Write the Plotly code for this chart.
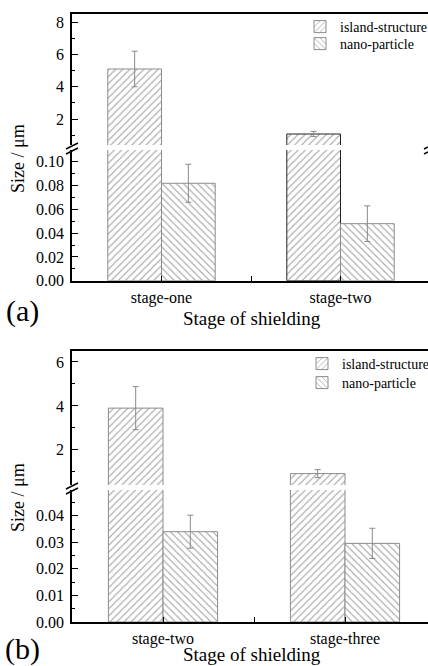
import plotly.graph_objects as go

# ---- data -------------------------------------------------------------
stages_a = ["stage-one", "stage-two"]
island_a = [5.1, 1.08]
island_a_err = [1.1, 0.16]
nano_a = [0.082, 0.048]
nano_a_err = [0.016, 0.015]

stages_b = ["stage-two", "stage-three"]
island_b = [3.9, 0.92]
island_b_err = [0.98, 0.18]
nano_b = [0.034, 0.0296]
nano_b_err = [0.0062, 0.0057]

series_names = ["island-structure", "nano-particle"]

# ---- page geometry (pixels) ------------------------------------------
W, H = 428, 666
FONT = "Liberation Serif"


def fx(px):
    return px / W


def fy(px):
    return 1 - px / H


panels = [
    dict(stages=stages_a, island=island_a, island_err=island_a_err,
         nano=nano_a, nano_err=nano_a_err,
         upper_px=(14, 145), lower_px=(150, 280.7),
         upper_range=[0.4, 8.5], lower_range=[0, 0.11],
         lower_dtick=0.02, lower_minor=0.01,
         px_per_cat=179, legends=("legend", "legend2"),
         island_line=["#8c8c8c", "#222222"],
         tag="(a)", tag_y=311, xtitle_y=318, ytitle_y=159,
         legend_rows=(27, 44), legend_x=300),
    dict(stages=stages_b, island=island_b, island_err=island_b_err,
         nano=nano_b, nano_err=nano_b_err,
         upper_px=(351, 485), lower_px=(490, 622),
         upper_range=[0.4, 6.5], lower_range=[0, 0.0497],
         lower_dtick=0.01, lower_minor=0.005,
         px_per_cat=182, legends=("legend3", "legend4"),
         island_line=["#8c8c8c", "#8c8c8c"],
         tag="(b)", tag_y=649, xtitle_y=654, ytitle_y=498,
         legend_rows=(364, 383), legend_x=302),
]

X0_PX = 72
fig = go.Figure()
layout = dict(
    width=W, height=H,
    margin=dict(l=0, r=0, t=0, b=0, autoexpand=False),
    paper_bgcolor="white", plot_bgcolor="rgba(0,0,0,0)",
    barmode="group", bargap=0.4, bargroupgap=0,
    font=dict(family=FONT, size=16, color="black"),
    showlegend=True,
)
shapes = []
annotations = []

axis_common = dict(showgrid=False, zeroline=False, linecolor="black",
                   automargin=False)
tick_font = dict(family=FONT, size=16, color="black")

for p_i, p in enumerate(panels):
    n = len(p["stages"])
    xs = list(range(n))
    xmax = -0.5 + (W - X0_PX) / p["px_per_cat"]
    up_idx, lo_idx = 2 * p_i + 1, 2 * p_i + 2

    for sec_idx, is_upper in ((up_idx, True), (lo_idx, False)):
        xa = "x" if sec_idx == 1 else f"x{sec_idx}"
        ya = "y" if sec_idx == 1 else f"y{sec_idx}"
        fig.add_trace(go.Bar(
            x=xs, y=p["island"], name=series_names[0],
            xaxis=xa, yaxis=ya, legend=p["legends"][0],
            showlegend=is_upper, offsetgroup="island",
            marker=dict(color="white",
                        line=dict(color=p["island_line"], width=1),
                        pattern=dict(shape="/", fgcolor="#555555",
                                     bgcolor="white", size=5, solidity=0.22)),
            error_y=dict(type="data", array=p["island_err"],
                         color="#8a8a8a", thickness=1, width=3),
        ))
        fig.add_trace(go.Bar(
            x=xs, y=p["nano"], name=series_names[1],
            xaxis=xa, yaxis=ya, legend=p["legends"][1],
            showlegend=is_upper, offsetgroup="nano",
            marker=dict(color="white",
                        line=dict(color="#8c8c8c", width=1),
                        pattern=dict(shape="\\", fgcolor="#555555",
                                     bgcolor="white", size=5, solidity=0.22)),
            error_y=dict(type="data", array=p["nano_err"],
                         color="#8a8a8a", thickness=1, width=3),
        ))

    # x axes: top frame line on the upper part, category axis below
    up_top, up_bot = p["upper_px"]
    lo_top, lo_bot = p["lower_px"]
    tickvals, ticktext = [], []
    for i, s in enumerate(p["stages"]):
        tickvals.append(i)
        ticktext.append(s)
        if i < n - 1:
            tickvals.append(i + 0.5)
            ticktext.append("")
    layout["xaxis" if up_idx == 1 else f"xaxis{up_idx}"] = dict(
        axis_common, domain=[fx(X0_PX), 1], range=[-0.5, xmax],
        anchor="y" if up_idx == 1 else f"y{up_idx}", side="top",
        showline=True, linewidth=2, ticks="", showticklabels=False,
    )
    layout[f"xaxis{lo_idx}"] = dict(
        axis_common, domain=[fx(X0_PX), 1], range=[-0.5, xmax],
        anchor=f"y{lo_idx}", showline=True, linewidth=1.5,
        ticks="inside", ticklen=5, tickcolor="black",
        tickvals=tickvals, ticktext=ticktext, ticklabelstandoff=1,
        tickfont=tick_font,
    )
    # y axes: broken scale, micrometres above, sub-0.1 values below
    layout["yaxis" if up_idx == 1 else f"yaxis{up_idx}"] = dict(
        axis_common, domain=[fy(up_bot), fy(up_top)], range=p["upper_range"],
        anchor="x" if up_idx == 1 else f"x{up_idx}",
        showline=True, linewidth=1.5, ticks="inside", ticklen=6,
        tickcolor="black", tick0=0, dtick=2, ticklabelstandoff=3,
        tickfont=tick_font,
        minor=dict(dtick=1, tick0=0, ticks="inside", ticklen=3,
                   tickcolor="black"),
    )
    layout[f"yaxis{lo_idx}"] = dict(
        axis_common, domain=[fy(lo_bot), fy(lo_top)], range=p["lower_range"],
        anchor=f"x{lo_idx}", showline=True, linewidth=1.5,
        ticks="inside", ticklen=6, tickcolor="black",
        tick0=0, dtick=p["lower_dtick"], tickformat=".2f",
        ticklabelstandoff=3, tickfont=tick_font,
        minor=dict(dtick=p["lower_minor"], tick0=0, ticks="inside",
                   ticklen=3, tickcolor="black"),
    )

    # axis-break marks on the left and right spines (only where on the page)
    right_px = X0_PX + n * p["px_per_cat"]
    for axis_px in (X0_PX, right_px):
        if axis_px - 6 >= W:
            continue
        for off in (0, 5):
            x_end = min(axis_px + 6, W)
            shapes.append(dict(
                type="line", xref="paper", yref="paper",
                x0=fx(axis_px - 6), y0=fy(up_bot + 4 + off),
                x1=fx(x_end),
                y1=fy(up_bot + 4 + off - 6 * (x_end - axis_px + 6) / 12),
                line=dict(color="black", width=1.5),
            ))

    # one legend box per series, stacked
    for lg, row_y in zip(p["legends"], p["legend_rows"]):
        layout[lg] = dict(
            x=fx(p["legend_x"]), y=fy(row_y), xanchor="left", yanchor="middle",
            bgcolor="rgba(0,0,0,0)", borderwidth=0,
            font=dict(family=FONT, size=14, color="black"),
            itemclick=False,
        )

    # titles and panel tag
    annotations.append(dict(
        text="Size / μm", xref="paper", yref="paper",
        x=fx(18), y=fy(p["ytitle_y"]), textangle=-90, showarrow=False,
        xanchor="center", yanchor="middle",
        font=dict(family=FONT, size=18, color="black"),
    ))
    annotations.append(dict(
        text="Stage of shielding", xref="paper", yref="paper",
        x=fx(252), y=fy(p["xtitle_y"]), showarrow=False,
        xanchor="center", yanchor="middle",
        font=dict(family=FONT, size=19, color="black"),
    ))
    annotations.append(dict(
        text=p["tag"], xref="paper", yref="paper",
        x=fx(22), y=fy(p["tag_y"]), showarrow=False,
        xanchor="center", yanchor="middle",
        font=dict(family=FONT, size=30, color="black"),
    ))

layout["shapes"] = shapes
layout["annotations"] = annotations
fig.update_layout(**layout)
fig.write_html("out.html")
